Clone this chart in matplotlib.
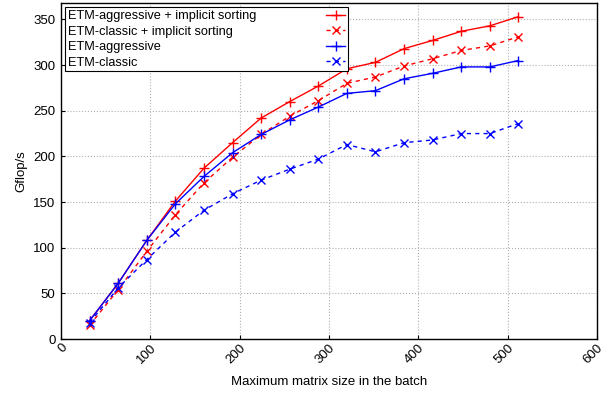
import matplotlib
matplotlib.use("Agg")
import matplotlib.pyplot as plt

plt.rcParams['font.family'] = ['Liberation Sans', 'DejaVu Sans']

sizes = [32, 64, 96, 128, 160, 192, 224, 256, 288, 320, 352, 384, 416, 448, 480, 512]
aggr_sort = [20, 61, 108, 151, 187, 215, 242, 260, 277, 296, 303, 318, 327, 337, 343, 353]
classic_sort = [15, 54, 96, 136, 171, 199, 224, 244, 261, 280, 287, 299, 307, 316, 321, 331]
aggr = [20, 61, 108, 148, 178, 204, 224, 240, 254, 269, 272, 285, 291, 298, 298, 305]
classic = [18, 56, 87, 117, 141, 159, 174, 186, 197, 213, 205, 215, 218, 225, 225, 236]

labels = ['ETM-aggressive + implicit sorting', 'ETM-classic + implicit sorting',
          'ETM-aggressive', 'ETM-classic']
xticks = [0, 100, 200, 300, 400, 500, 600]
yticks = [0, 50, 100, 150, 200, 250, 300, 350]

FS = 9.5
LFS = 9.2
fig = plt.figure(figsize=(6.11, 3.98), dpi=100)
ax = fig.add_axes([61/611, 59/398, 536/611, 336/398])

ax.plot(sizes, aggr_sort, color='red', linestyle='-', marker='+', markersize=7, lw=1, label=labels[0])
ax.plot(sizes, classic_sort, color='red', linestyle=(0, (3, 3)), marker='x', markersize=6, lw=1, label=labels[1])
ax.plot(sizes, aggr, color='blue', linestyle='-', marker='+', markersize=7, lw=1, label=labels[2])
ax.plot(sizes, classic, color='blue', linestyle=(0, (3, 3)), marker='x', markersize=6, lw=1, label=labels[3])

ax.set_xlim(0, 600)
ax.set_ylim(0, 368)
ax.set_xticks(xticks)
ax.set_yticks(yticks)
ax.tick_params(axis='both', labelsize=FS, direction='in', length=3)
ax.tick_params(axis='y', pad=4)
ax.tick_params(axis='x', pad=2)
for lab in ax.get_xticklabels():
    lab.set_rotation(45)
    lab.set_ha('right')
    lab.set_va('top')
    lab.set_rotation_mode('anchor')
ax.grid(True, linestyle=':', color='#b0b0b0', lw=0.8)
for s in ax.spines.values():
    s.set_linewidth(1)
ax.set_xlabel('Maximum matrix size in the batch', fontsize=FS, labelpad=7)
ax.set_ylabel('Gflop/s', fontsize=FS, labelpad=4)

leg = ax.legend(loc='upper left', markerfirst=False, fontsize=LFS, handlelength=1.5,
                handletextpad=1.0, borderaxespad=0.35, fancybox=False, framealpha=1,
                edgecolor='black', labelspacing=0.28, borderpad=0.2)
leg.get_frame().set_linewidth(0.8)

# left-align labels and align handles in one column at the right
fig.canvas.draw()
renderer = fig.canvas.get_renderer()
texts = leg.get_texts()
widths = [t.get_window_extent(renderer).width for t in texts]
target = 258.0  # px from text start to handle start
col = leg._legend_handle_box.get_children()[0]
for hp, w in zip(col.get_children(), widths):
    hp.sep = (target - w) * 72.0 / fig.dpi

fig.savefig('out.png', dpi=100)
